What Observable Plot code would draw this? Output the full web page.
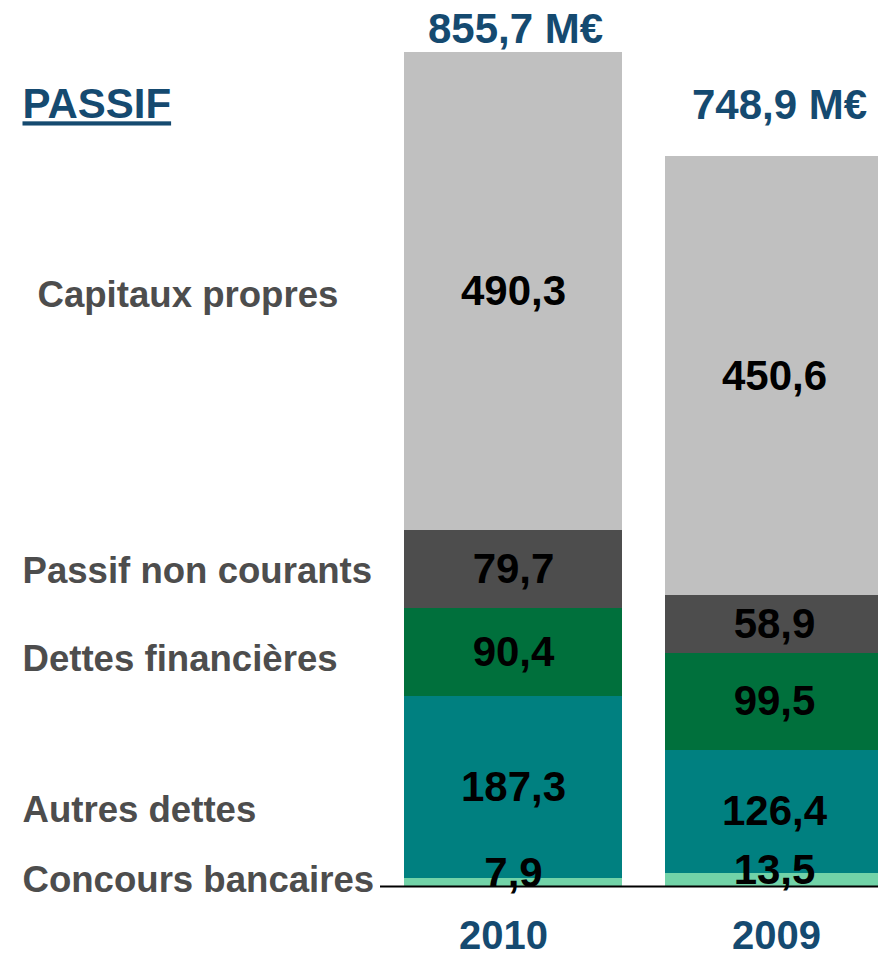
<!DOCTYPE html>
<html><head><meta charset="utf-8">
<script src="https://cdn.jsdelivr.net/npm/d3@7"></script>
<script src="https://cdn.jsdelivr.net/npm/@observablehq/plot@0.6"></script>
<style>
html,body{margin:0;padding:0;background:#fff;overflow:hidden;}
#chart svg{display:block;}
</style>
</head><body><div id="chart"></div>
<script>
const years = ["2010", "2009"];
const categories = ["Concours bancaires", "Autres dettes", "Dettes financières", "Passif non courants", "Capitaux propres"];
const values2010 = [7.9, 187.3, 90.4, 79.7, 490.3];
const values2009 = [13.5, 126.4, 99.5, 58.9, 450.6];
const totals = [855.7, 748.9];
const totalLabels = ["855,7 M€", "748,9 M€"];
const colors = ["#72d3a8", "#008080", "#00703c", "#4d4d4d", "#c0c0c0"];

const blue = "#154a70";
const font = "Liberation Sans, Arial, sans-serif";
const fmt = v => String(v).replace(".", ",");

const rows = [];
years.forEach((yr, i) => {
  const vals = i === 0 ? values2010 : values2009;
  let acc = 0;
  categories.forEach((c, j) => {
    rows.push({year: yr, category: c, value: vals[j], y1: acc, y2: acc + vals[j], mid: acc + vals[j] / 2});
    acc += vals[j];
  });
});

const labelDy = {"Concours bancaires": -2, "Autres dettes": 23, "Dettes financières": 7, "Passif non courants": 2, "Capitaux propres": 4};
const labelDx = {"Capitaux propres": -343};
const totalDy = {"2010": -10, "2009": -38};
const totalDx = {"2010": 2, "2009": 5};
const yearDx = {"2010": -10, "2009": 2};

const marks = [];
marks.push(Plot.barY(rows, {x: "year", y1: "y1", y2: "y2", fill: "category", shapeRendering: "crispEdges"}));
marks.push(Plot.ruleY([0], {stroke: "#000", strokeWidth: 2}));
marks.push(Plot.text(rows.filter(d => d.value >= 20), {x: "year", y: "mid", text: d => fmt(d.value), fill: "#000", fontSize: 42, fontWeight: "bold"}));
marks.push(Plot.text(rows.filter(d => d.value < 20), {x: "year", y: "mid", text: d => fmt(d.value), fill: "#000", fontSize: 42, fontWeight: "bold", dy: -9}));

rows.filter(d => d.year === years[0]).forEach(d => {
  marks.push(Plot.text([d], {y: "mid", text: "category", frameAnchor: "left", textAnchor: "start",
    dx: labelDx[d.category] ?? -358, dy: labelDy[d.category], fill: "#4d4d4d", fontSize: 36.6, fontWeight: "bold"}));
});

years.forEach((yr, i) => {
  marks.push(Plot.text([{year: yr, total: totals[i], label: totalLabels[i]}], {x: "year", y: "total", text: "label",
    lineAnchor: "bottom", dy: totalDy[yr], dx: totalDx[yr], fill: blue, fontSize: 42, fontWeight: "bold"}));
  marks.push(Plot.text([yr], {x: d => d, y: () => 0, text: d => d, lineAnchor: "bottom", dy: 62, dx: yearDx[yr],
    fill: blue, fontSize: 40, fontWeight: "bold"}));
});

marks.push(Plot.text(["PASSIF"], {frameAnchor: "top-left", textAnchor: "start", lineAnchor: "top", dx: -358, dy: 88,
  text: d => d, fill: blue, fontSize: 42, fontWeight: "bold"}));

const chart = Plot.plot({
  width: 878,
  height: 955,
  marginLeft: 380,
  marginRight: 0,
  marginTop: 0,
  marginBottom: 0,
  x: {domain: years, range: [404, 883], paddingInner: 0.165, paddingOuter: 0, axis: null},
  y: {domain: [0, 855.7], range: [886, 52], axis: null},
  color: {domain: categories, range: colors},
  style: {fontFamily: font, background: "white", overflow: "hidden"},
  marks
});
chart.querySelectorAll("text").forEach(t => {
  if (t.textContent === "PASSIF") {
    t.style.textDecoration = "underline";
    t.style.textDecorationThickness = "4px";
  }
});
document.getElementById("chart").appendChild(chart);
</script>
</body></html>
